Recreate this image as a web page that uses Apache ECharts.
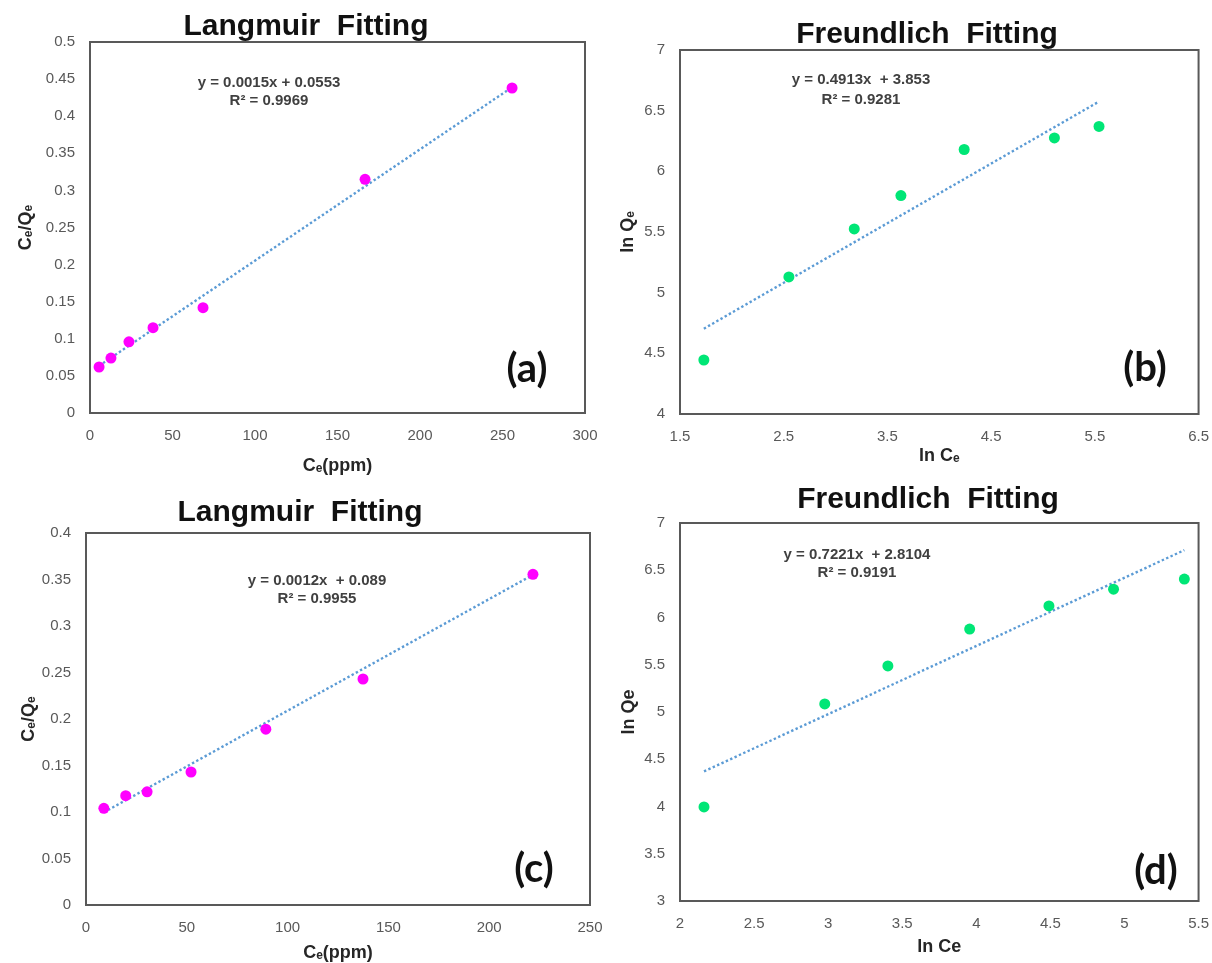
<!DOCTYPE html>
<html>
<head>
<meta charset="utf-8">
<script src="https://cdn.jsdelivr.net/npm/echarts@6/dist/echarts.min.js"></script>
<style>
  html, body { margin: 0; padding: 0; background: #fff; }
  #main { width: 1212px; height: 963px; }
</style>
</head>
<body>
<div id="main"></div>
<script>
// (a) Langmuir, first set
var langA_x = [5.5, 12.7, 23.6, 38.2, 68.5, 166.7, 255.8];
var langA_y = [0.062, 0.074, 0.096, 0.115, 0.142, 0.315, 0.438];
var langA_fit = [[5.5, 0.0636], [255.8, 0.4390]];

// (b) Freundlich, first set
var freuB_x = [1.73, 2.55, 3.18, 3.63, 4.24, 5.11, 5.54];
var freuB_y = [4.445, 5.13, 5.525, 5.80, 6.18, 6.275, 6.37];
var freuB_fit = [[1.73, 4.703], [5.54, 6.575]];

// (c) Langmuir, second set
var langC_x = [8.85, 19.7, 30.3, 52.1, 89.2, 137.4, 221.7];
var langC_y = [0.104, 0.1175, 0.1217, 0.143, 0.189, 0.243, 0.3556];
var langC_fit = [[8.85, 0.0996], [221.7, 0.355]];

// (d) Freundlich, second set
var freuD_x = [2.162, 2.977, 3.403, 3.955, 4.49, 4.926, 5.404];
var freuD_y = [3.995, 5.085, 5.487, 5.878, 6.122, 6.30, 6.407];
var freuD_fit = [[2.162, 4.372], [5.404, 6.713]];

var equations = [
  ['y = 0.0015x + 0.0553', 'R² = 0.9969'],
  ['y = 0.4913x  + 3.853', 'R² = 0.9281'],
  ['y = 0.0012x  + 0.089', 'R² = 0.9955'],
  ['y = 0.7221x  + 2.8104', 'R² = 0.9191']
];
var titles = ['Langmuir  Fitting', 'Freundlich  Fitting', 'Langmuir  Fitting', 'Freundlich  Fitting'];
var panelTags = ['(a)', '(b)', '(c)', '(d)'];

function zip(xs, ys) {
  return xs.map(function (x, i) { return [x, ys[i]]; });
}

var chart = echarts.init(document.getElementById('main'));

var grids = [
  { left: 90, top: 42, width: 495, height: 371 },
  { left: 680, top: 50, width: 523, height: 364 },
  { left: 86, top: 533, width: 504, height: 378 },
  { left: 680, top: 523, width: 524, height: 378 }
];

var tickFont = { fontFamily: 'Liberation Sans', fontSize: 15, color: '#595959' };
// main text + lowered subscript "e"
var rich = {
  m: { fontFamily: 'Liberation Sans', fontWeight: 'bold', fontSize: 18, color: '#262626', lineHeight: 24, verticalAlign: 'bottom' },
  s: { fontFamily: 'Liberation Sans', fontWeight: 'bold', fontSize: 12, color: '#262626', lineHeight: 9, verticalAlign: 'bottom' }
};

function axis(gi, min, max, interval, name, gap, hideInt) {
  return {
    type: 'value', gridIndex: gi, min: min, max: max, interval: interval,
    name: name, nameLocation: 'middle', nameGap: gap,
    nameTextStyle: { rich: rich },
    axisLine: { show: false }, axisTick: { show: false }, splitLine: { show: false },
    axisLabel: Object.assign({ margin: 15, formatter: hideInt ? function (v) {
      return Math.abs(v - Math.round(v)) < 1e-9 ? '' : String(v);
    } : null }, tickFont)
  };
}

var xAxes = [
  axis(0, 0, 300, 50, '{m|C}{s|e}{m|(ppm)}', 38),
  axis(1, 1.5, 6.5, 0.5, '{m|ln C}{s|e}', 27, true),
  axis(2, 0, 250, 50, '{m|C}{s|e}{m|(ppm)}', 33),
  axis(3, 2, 5.5, 0.5, '{m|ln Ce}', 31)
];
var yAxes = [
  axis(0, 0, 0.5, 0.05, '{m|C}{s|e}{m|/Q}{s|e}', 55),
  axis(1, 4, 7, 0.5, '{m|ln Q}{s|e}', 43),
  axis(2, 0, 0.4, 0.05, '{m|C}{s|e}{m|/Q}{s|e}', 45),
  axis(3, 3, 7, 0.5, '{m|ln Qe}', 42)
];

var pointSets = [zip(langA_x, langA_y), zip(freuB_x, freuB_y), zip(langC_x, langC_y), zip(freuD_x, freuD_y)];
var fits = [langA_fit, freuB_fit, langC_fit, freuD_fit];
var colors = ['#ff00ff', '#00e676', '#ff00ff', '#00e676'];

var series = [];
for (var i = 0; i < 4; i++) {
  series.push({
    type: 'line', xAxisIndex: i, yAxisIndex: i, data: fits[i],
    symbol: 'none', z: 2, silent: true,
    lineStyle: { color: '#5b9bd5', width: 2.4, type: 'dotted' }
  });
  series.push({
    type: 'scatter', xAxisIndex: i, yAxisIndex: i, data: pointSets[i],
    symbol: 'circle', symbolSize: 11, z: 3,
    itemStyle: { color: colors[i], opacity: 1 }
  });
}

// text positions
var titlePos = [[306, 27], [927, 35], [300, 513], [928, 500]];
var eqPos = [[269, 83, 101], [861, 80, 100], [317, 581, 599], [857, 555, 573]];
var tagPos = [[527, 369], [1145, 368], [534, 869], [1156, 871]];

var graphic = [];
for (var k = 0; k < 4; k++) {
  graphic.push({
    type: 'text', x: titlePos[k][0], y: titlePos[k][1],
    style: { text: titles[k], align: 'center', verticalAlign: 'middle',
      font: 'bold 30px "Liberation Sans"', fill: '#111' }
  });
  graphic.push({
    type: 'text', x: eqPos[k][0], y: eqPos[k][1],
    style: { text: equations[k][0], align: 'center', verticalAlign: 'middle',
      font: 'bold 15px "Liberation Sans"', fill: '#404040' }
  });
  graphic.push({
    type: 'text', x: eqPos[k][0], y: eqPos[k][2],
    style: { text: equations[k][1], align: 'center', verticalAlign: 'middle',
      font: 'bold 15px "Liberation Sans"', fill: '#404040' }
  });
  graphic.push({
    type: 'text', x: tagPos[k][0], y: tagPos[k][1],
    style: { text: panelTags[k], align: 'center', verticalAlign: 'middle',
      font: 'bold 40px Lato', fill: '#111' }
  });
}

chart.setOption({
  backgroundColor: '#fff',
  animation: false,
  grid: grids.map(function (g) {
    return Object.assign({ show: true, borderColor: '#595959', borderWidth: 2, backgroundColor: 'transparent' }, g);
  }),
  xAxis: xAxes,
  yAxis: yAxes,
  series: series,
  graphic: graphic
});
</script>
</body>
</html>
